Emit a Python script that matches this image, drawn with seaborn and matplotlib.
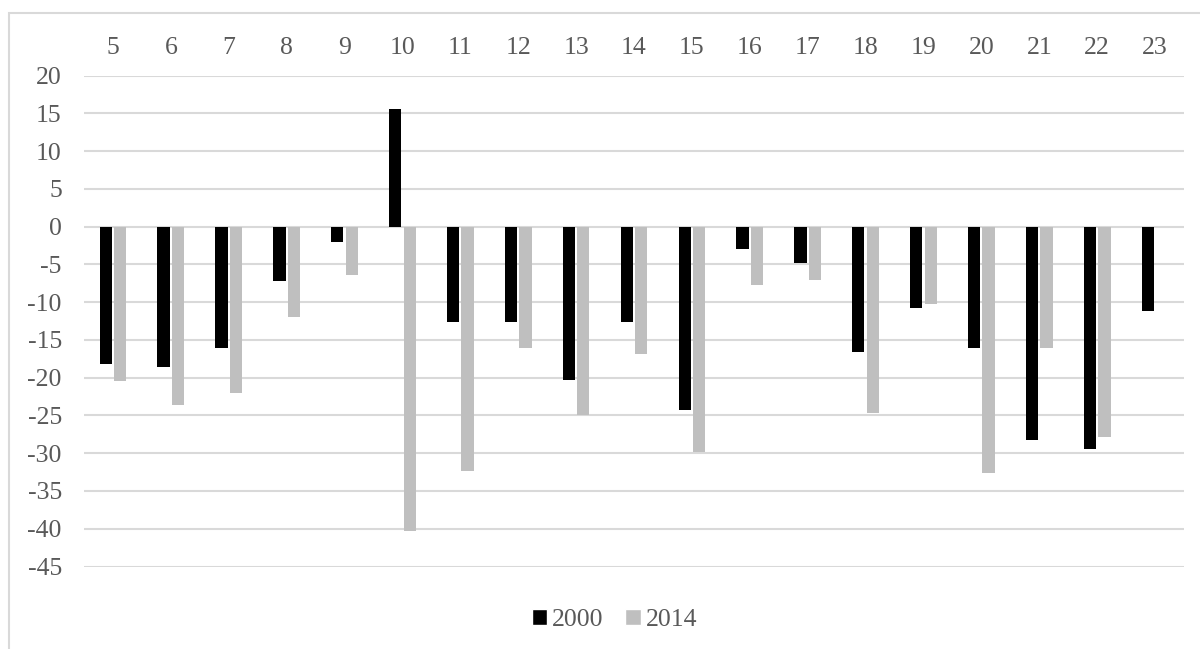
import numpy as np
import pandas as pd
import matplotlib
matplotlib.use("Agg")
import matplotlib.pyplot as plt
import seaborn as sns
from matplotlib.patches import Rectangle, Patch

# data
categories = [str(c) for c in range(5, 24)]
values_2000 = [-18.2, -18.6, -16.0, -7.2, -2.0, 15.6, -12.6, -12.6, -20.3, -12.6,
               -24.3, -3.0, -4.8, -16.6, -10.8, -16.0, -28.2, -29.5, -11.2]
values_2014 = [-20.4, -23.6, -22.0, -12.0, -6.4, -40.3, -32.4, -16.1, -25.0, -16.8,
               -29.9, -7.7, -7.1, -24.7, -10.3, -32.6, -16.0, -27.9, np.nan]
series = ["2000", "2014"]
y_ticks = list(range(-45, 25, 5))

df = pd.DataFrame({
    "cat": categories * 2,
    "value": values_2000 + values_2014,
    "year": [series[0]] * len(categories) + [series[1]] * len(categories),
})

sns.set_theme(style="white")
plt.rcParams["font.family"] = ["Liberation Serif", "DejaVu Serif"]
plt.rcParams["axes.unicode_minus"] = False

text_color = "#595959"
grid_color = "#d9d9d9"
colors = {"2000": "#000000", "2014": "#bfbfbf"}
fs = 18.5

fig = plt.figure(figsize=(12, 6.49), dpi=100)
ax = fig.add_axes([84 / 1200, 1 - 566.5 / 649, (1184 - 84) / 1200, (566.5 - 75.7) / 649])

sns.barplot(data=df, x="cat", y="value", hue="year", order=categories,
            hue_order=series, palette=colors, width=0.5, gap=0.15,
            linewidth=0, errorbar=None, legend=False, ax=ax, zorder=3)

ax.set_ylim(-45, 20)
ax.set_xlim(-0.5, len(categories) - 0.5)
ax.set_yticks(y_ticks)
ax.set_yticklabels([str(t) for t in y_ticks])
ax.yaxis.grid(True, color=grid_color, linewidth=1.5, zorder=0)
ax.set_axisbelow(True)
ax.xaxis.tick_top()
ax.tick_params(axis="x", length=0, pad=12, labelsize=fs, labelcolor=text_color)
ax.tick_params(axis="y", length=0, pad=16, labelsize=fs, labelcolor=text_color)
ax.set_xlabel("")
ax.set_ylabel("")
for s in ax.spines.values():
    s.set_visible(False)

# chart frame
fig.patches.append(Rectangle((9 / 1200, -0.02), 1.0, 1 - 13 / 649 + 0.02,
                             transform=fig.transFigure, fill=False,
                             edgecolor=grid_color, linewidth=1.5))

handles = [Patch(facecolor=colors[s], label=s) for s in series]
leg = fig.legend(handles=handles, loc="center", bbox_to_anchor=(614.5 / 1200, 1 - 620 / 649),
                 ncol=2, frameon=False, fontsize=fs, handlelength=0.6,
                 handleheight=0.6, handletextpad=0.2, columnspacing=0.85)
for t in leg.get_texts():
    t.set_color(text_color)

fig.savefig("out.png", dpi=100)
